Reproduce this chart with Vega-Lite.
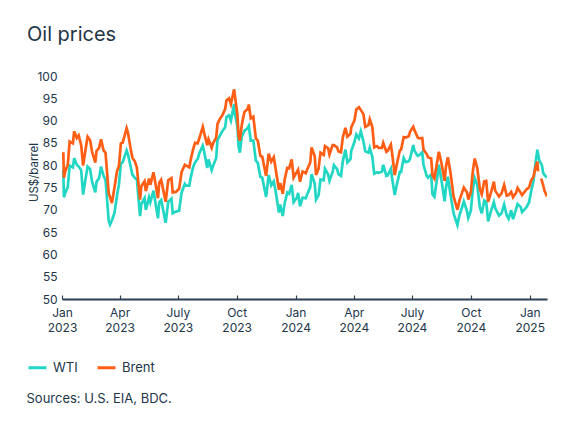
{
"$schema": "https://vega.github.io/schema/vega-lite/v6.json",
"width": 485, "height": 223,
"autosize": {"type": "none"},
"padding": {"left": 62, "top": 76, "right": 28, "bottom": 132},
"background": "white",
"title": {"text": "Oil prices", "anchor": "start", "frame": "group", "dx": -35, "offset": 9, "fontSize": 20, "font": "Inter", "fontWeight": 400, "color": "#1f3445", "baseline": "alphabetic"},
"config": {"view": {"stroke": null}},
"data": {"values": [
{"d":"2023-01-03","s":"WTI","v":79.0},{"d":"2023-01-04","s":"WTI","v":72.8},{"d":"2023-01-06","s":"WTI","v":73.8},{"d":"2023-01-10","s":"WTI","v":75.1},{"d":"2023-01-13","s":"WTI","v":79.9},{"d":"2023-01-18","s":"WTI","v":79.5},{"d":"2023-01-20","s":"WTI","v":81.6},{"d":"2023-01-24","s":"WTI","v":80.1},{"d":"2023-01-27","s":"WTI","v":79.7},{"d":"2023-01-31","s":"WTI","v":78.9},
{"d":"2023-02-03","s":"WTI","v":73.4},{"d":"2023-02-07","s":"WTI","v":77.1},{"d":"2023-02-10","s":"WTI","v":79.7},{"d":"2023-02-14","s":"WTI","v":79.1},{"d":"2023-02-17","s":"WTI","v":76.3},{"d":"2023-02-22","s":"WTI","v":73.9},{"d":"2023-02-24","s":"WTI","v":76.3},{"d":"2023-02-28","s":"WTI","v":77.1},
{"d":"2023-03-03","s":"WTI","v":79.7},{"d":"2023-03-07","s":"WTI","v":77.6},{"d":"2023-03-10","s":"WTI","v":76.7},{"d":"2023-03-15","s":"WTI","v":67.6},{"d":"2023-03-17","s":"WTI","v":66.7},{"d":"2023-03-20","s":"WTI","v":67.6},{"d":"2023-03-24","s":"WTI","v":69.3},{"d":"2023-03-28","s":"WTI","v":73.2},{"d":"2023-03-31","s":"WTI","v":75.7},
{"d":"2023-04-03","s":"WTI","v":80.4},{"d":"2023-04-06","s":"WTI","v":80.7},{"d":"2023-04-12","s":"WTI","v":83.3},{"d":"2023-04-14","s":"WTI","v":82.5},{"d":"2023-04-19","s":"WTI","v":79.2},{"d":"2023-04-21","s":"WTI","v":77.9},{"d":"2023-04-25","s":"WTI","v":77.1},{"d":"2023-04-28","s":"WTI","v":76.8},
{"d":"2023-05-03","s":"WTI","v":68.6},{"d":"2023-05-05","s":"WTI","v":71.3},{"d":"2023-05-10","s":"WTI","v":72.6},{"d":"2023-05-12","s":"WTI","v":70.0},{"d":"2023-05-17","s":"WTI","v":72.8},{"d":"2023-05-19","s":"WTI","v":71.7},{"d":"2023-05-24","s":"WTI","v":74.3},{"d":"2023-05-31","s":"WTI","v":68.1},
{"d":"2023-06-02","s":"WTI","v":71.7},{"d":"2023-06-05","s":"WTI","v":72.2},{"d":"2023-06-12","s":"WTI","v":67.1},{"d":"2023-06-16","s":"WTI","v":71.8},{"d":"2023-06-21","s":"WTI","v":72.5},{"d":"2023-06-23","s":"WTI","v":69.2},{"d":"2023-06-28","s":"WTI","v":69.6},
{"d":"2023-07-03","s":"WTI","v":69.8},{"d":"2023-07-07","s":"WTI","v":73.9},{"d":"2023-07-12","s":"WTI","v":75.8},{"d":"2023-07-14","s":"WTI","v":75.4},{"d":"2023-07-19","s":"WTI","v":75.4},{"d":"2023-07-21","s":"WTI","v":77.1},{"d":"2023-07-25","s":"WTI","v":79.6},{"d":"2023-07-28","s":"WTI","v":80.6},
{"d":"2023-08-01","s":"WTI","v":81.4},{"d":"2023-08-04","s":"WTI","v":82.8},{"d":"2023-08-09","s":"WTI","v":84.4},{"d":"2023-08-11","s":"WTI","v":83.2},{"d":"2023-08-16","s":"WTI","v":79.4},{"d":"2023-08-18","s":"WTI","v":81.3},{"d":"2023-08-23","s":"WTI","v":78.9},{"d":"2023-08-25","s":"WTI","v":79.8},{"d":"2023-08-30","s":"WTI","v":81.6},
{"d":"2023-09-01","s":"WTI","v":85.6},{"d":"2023-09-05","s":"WTI","v":86.7},{"d":"2023-09-08","s":"WTI","v":87.5},{"d":"2023-09-13","s":"WTI","v":88.5},{"d":"2023-09-15","s":"WTI","v":90.8},{"d":"2023-09-19","s":"WTI","v":91.2},{"d":"2023-09-22","s":"WTI","v":90.0},{"d":"2023-09-27","s":"WTI","v":93.7},{"d":"2023-09-28","s":"WTI","v":91.7},
{"d":"2023-10-02","s":"WTI","v":88.8},{"d":"2023-10-04","s":"WTI","v":84.2},{"d":"2023-10-06","s":"WTI","v":82.8},{"d":"2023-10-09","s":"WTI","v":86.4},{"d":"2023-10-13","s":"WTI","v":87.7},{"d":"2023-10-18","s":"WTI","v":88.3},{"d":"2023-10-20","s":"WTI","v":88.8},{"d":"2023-10-23","s":"WTI","v":85.5},{"d":"2023-10-27","s":"WTI","v":85.5},{"d":"2023-10-31","s":"WTI","v":81.0},
{"d":"2023-11-03","s":"WTI","v":80.5},{"d":"2023-11-07","s":"WTI","v":77.4},{"d":"2023-11-10","s":"WTI","v":77.2},{"d":"2023-11-16","s":"WTI","v":72.9},{"d":"2023-11-20","s":"WTI","v":77.8},{"d":"2023-11-24","s":"WTI","v":75.5},{"d":"2023-11-28","s":"WTI","v":76.4},
{"d":"2023-12-01","s":"WTI","v":74.1},{"d":"2023-12-06","s":"WTI","v":69.4},{"d":"2023-12-08","s":"WTI","v":71.2},{"d":"2023-12-12","s":"WTI","v":68.6},{"d":"2023-12-15","s":"WTI","v":71.4},{"d":"2023-12-19","s":"WTI","v":73.9},{"d":"2023-12-22","s":"WTI","v":73.6},{"d":"2023-12-26","s":"WTI","v":75.6},{"d":"2023-12-29","s":"WTI","v":71.7},
{"d":"2024-01-03","s":"WTI","v":72.7},{"d":"2024-01-05","s":"WTI","v":73.8},{"d":"2024-01-08","s":"WTI","v":70.8},{"d":"2024-01-12","s":"WTI","v":72.7},{"d":"2024-01-17","s":"WTI","v":72.6},{"d":"2024-01-19","s":"WTI","v":73.4},{"d":"2024-01-24","s":"WTI","v":75.1},{"d":"2024-01-26","s":"WTI","v":78.0},{"d":"2024-01-31","s":"WTI","v":75.9},
{"d":"2024-02-02","s":"WTI","v":72.3},{"d":"2024-02-06","s":"WTI","v":73.3},{"d":"2024-02-09","s":"WTI","v":76.8},{"d":"2024-02-14","s":"WTI","v":76.6},{"d":"2024-02-16","s":"WTI","v":79.2},{"d":"2024-02-21","s":"WTI","v":77.9},{"d":"2024-02-23","s":"WTI","v":76.5},{"d":"2024-02-28","s":"WTI","v":78.5},
{"d":"2024-03-01","s":"WTI","v":80.0},{"d":"2024-03-06","s":"WTI","v":79.1},{"d":"2024-03-08","s":"WTI","v":78.0},{"d":"2024-03-12","s":"WTI","v":77.6},{"d":"2024-03-15","s":"WTI","v":81.0},{"d":"2024-03-19","s":"WTI","v":83.5},{"d":"2024-03-22","s":"WTI","v":80.6},{"d":"2024-03-27","s":"WTI","v":81.4},{"d":"2024-03-28","s":"WTI","v":83.2},
{"d":"2024-04-02","s":"WTI","v":85.2},{"d":"2024-04-05","s":"WTI","v":86.9},{"d":"2024-04-09","s":"WTI","v":86.0},{"d":"2024-04-12","s":"WTI","v":87.6},{"d":"2024-04-16","s":"WTI","v":85.4},{"d":"2024-04-19","s":"WTI","v":83.1},{"d":"2024-04-24","s":"WTI","v":82.8},{"d":"2024-04-26","s":"WTI","v":83.9},{"d":"2024-04-30","s":"WTI","v":81.9},
{"d":"2024-05-03","s":"WTI","v":78.1},{"d":"2024-05-07","s":"WTI","v":78.4},{"d":"2024-05-10","s":"WTI","v":78.3},{"d":"2024-05-15","s":"WTI","v":78.6},{"d":"2024-05-17","s":"WTI","v":80.1},{"d":"2024-05-22","s":"WTI","v":77.6},{"d":"2024-05-24","s":"WTI","v":77.7},{"d":"2024-05-29","s":"WTI","v":79.2},{"d":"2024-05-31","s":"WTI","v":77.0},
{"d":"2024-06-04","s":"WTI","v":73.3},{"d":"2024-06-07","s":"WTI","v":75.5},{"d":"2024-06-12","s":"WTI","v":78.5},{"d":"2024-06-14","s":"WTI","v":78.5},{"d":"2024-06-18","s":"WTI","v":81.6},{"d":"2024-06-21","s":"WTI","v":80.7},{"d":"2024-06-26","s":"WTI","v":80.9},{"d":"2024-06-28","s":"WTI","v":81.5},
{"d":"2024-07-03","s":"WTI","v":84.5},{"d":"2024-07-05","s":"WTI","v":83.2},{"d":"2024-07-10","s":"WTI","v":82.1},{"d":"2024-07-12","s":"WTI","v":82.2},{"d":"2024-07-17","s":"WTI","v":82.9},{"d":"2024-07-19","s":"WTI","v":80.1},{"d":"2024-07-24","s":"WTI","v":77.6},{"d":"2024-07-26","s":"WTI","v":77.2},{"d":"2024-07-31","s":"WTI","v":77.9},
{"d":"2024-08-02","s":"WTI","v":73.5},{"d":"2024-08-05","s":"WTI","v":72.9},{"d":"2024-08-09","s":"WTI","v":76.8},{"d":"2024-08-12","s":"WTI","v":80.1},{"d":"2024-08-16","s":"WTI","v":76.7},{"d":"2024-08-21","s":"WTI","v":71.9},{"d":"2024-08-23","s":"WTI","v":74.8},{"d":"2024-08-26","s":"WTI","v":77.4},{"d":"2024-08-30","s":"WTI","v":73.6},
{"d":"2024-09-04","s":"WTI","v":69.2},{"d":"2024-09-10","s":"WTI","v":66.6},{"d":"2024-09-13","s":"WTI","v":68.7},{"d":"2024-09-18","s":"WTI","v":70.9},{"d":"2024-09-20","s":"WTI","v":71.9},{"d":"2024-09-25","s":"WTI","v":69.7},{"d":"2024-09-27","s":"WTI","v":68.2},
{"d":"2024-10-01","s":"WTI","v":69.8},{"d":"2024-10-04","s":"WTI","v":74.4},{"d":"2024-10-07","s":"WTI","v":77.1},{"d":"2024-10-11","s":"WTI","v":75.6},{"d":"2024-10-15","s":"WTI","v":70.6},{"d":"2024-10-18","s":"WTI","v":69.2},{"d":"2024-10-22","s":"WTI","v":72.1},{"d":"2024-10-25","s":"WTI","v":71.8},{"d":"2024-10-28","s":"WTI","v":67.4},
{"d":"2024-11-01","s":"WTI","v":69.5},{"d":"2024-11-06","s":"WTI","v":71.7},{"d":"2024-11-08","s":"WTI","v":70.4},{"d":"2024-11-14","s":"WTI","v":68.7},{"d":"2024-11-18","s":"WTI","v":69.2},{"d":"2024-11-22","s":"WTI","v":71.2},{"d":"2024-11-26","s":"WTI","v":68.8},{"d":"2024-11-29","s":"WTI","v":68.0},
{"d":"2024-12-03","s":"WTI","v":69.9},{"d":"2024-12-06","s":"WTI","v":67.9},{"d":"2024-12-11","s":"WTI","v":70.3},{"d":"2024-12-13","s":"WTI","v":71.3},{"d":"2024-12-18","s":"WTI","v":70.6},{"d":"2024-12-20","s":"WTI","v":69.5},{"d":"2024-12-24","s":"WTI","v":70.1},{"d":"2024-12-27","s":"WTI","v":70.6},{"d":"2024-12-31","s":"WTI","v":71.7},
{"d":"2025-01-03","s":"WTI","v":74.0},{"d":"2025-01-07","s":"WTI","v":76.5},{"d":"2025-01-10","s":"WTI","v":80.5},{"d":"2025-01-13","s":"WTI","v":83.5},{"d":"2025-01-14","s":"WTI","v":82.6},{"d":"2025-01-16","s":"WTI","v":81.0},{"d":"2025-01-20","s":"WTI","v":80.0},{"d":"2025-01-22","s":"WTI","v":78.3},{"d":"2025-01-24","s":"WTI","v":77.8},{"d":"2025-01-28","s":"WTI","v":77.2},
{"d":"2023-01-03","s":"Brent","v":82.9},{"d":"2023-01-04","s":"Brent","v":77.2},{"d":"2023-01-06","s":"Brent","v":78.6},{"d":"2023-01-10","s":"Brent","v":80.1},{"d":"2023-01-13","s":"Brent","v":85.3},{"d":"2023-01-18","s":"Brent","v":84.9},{"d":"2023-01-20","s":"Brent","v":87.6},{"d":"2023-01-24","s":"Brent","v":86.1},{"d":"2023-01-27","s":"Brent","v":86.7},{"d":"2023-01-31","s":"Brent","v":84.5},
{"d":"2023-02-03","s":"Brent","v":79.9},{"d":"2023-02-07","s":"Brent","v":83.7},{"d":"2023-02-10","s":"Brent","v":86.4},{"d":"2023-02-14","s":"Brent","v":85.6},{"d":"2023-02-17","s":"Brent","v":83.0},{"d":"2023-02-22","s":"Brent","v":80.6},{"d":"2023-02-24","s":"Brent","v":83.2},{"d":"2023-02-28","s":"Brent","v":83.9},
{"d":"2023-03-03","s":"Brent","v":85.8},{"d":"2023-03-07","s":"Brent","v":83.3},{"d":"2023-03-10","s":"Brent","v":82.8},{"d":"2023-03-15","s":"Brent","v":73.7},{"d":"2023-03-17","s":"Brent","v":72.9},{"d":"2023-03-20","s":"Brent","v":71.5},{"d":"2023-03-24","s":"Brent","v":75.0},{"d":"2023-03-28","s":"Brent","v":78.7},{"d":"2023-03-31","s":"Brent","v":79.8},
{"d":"2023-04-03","s":"Brent","v":84.9},{"d":"2023-04-06","s":"Brent","v":85.1},{"d":"2023-04-12","s":"Brent","v":88.3},{"d":"2023-04-14","s":"Brent","v":87.3},{"d":"2023-04-19","s":"Brent","v":83.1},{"d":"2023-04-21","s":"Brent","v":81.7},{"d":"2023-04-25","s":"Brent","v":80.8},{"d":"2023-04-28","s":"Brent","v":79.5},
{"d":"2023-05-03","s":"Brent","v":72.3},{"d":"2023-05-05","s":"Brent","v":75.3},{"d":"2023-05-10","s":"Brent","v":76.4},{"d":"2023-05-12","s":"Brent","v":74.2},{"d":"2023-05-17","s":"Brent","v":77.0},{"d":"2023-05-19","s":"Brent","v":75.6},{"d":"2023-05-24","s":"Brent","v":78.4},{"d":"2023-05-31","s":"Brent","v":72.6},
{"d":"2023-06-02","s":"Brent","v":76.1},{"d":"2023-06-05","s":"Brent","v":76.7},{"d":"2023-06-12","s":"Brent","v":71.8},{"d":"2023-06-16","s":"Brent","v":76.6},{"d":"2023-06-21","s":"Brent","v":77.1},{"d":"2023-06-23","s":"Brent","v":73.9},{"d":"2023-06-28","s":"Brent","v":74.0},
{"d":"2023-07-03","s":"Brent","v":74.7},{"d":"2023-07-07","s":"Brent","v":78.5},{"d":"2023-07-12","s":"Brent","v":80.1},{"d":"2023-07-14","s":"Brent","v":79.9},{"d":"2023-07-19","s":"Brent","v":79.5},{"d":"2023-07-21","s":"Brent","v":81.1},{"d":"2023-07-25","s":"Brent","v":83.6},{"d":"2023-07-28","s":"Brent","v":85.0},
{"d":"2023-08-01","s":"Brent","v":84.9},{"d":"2023-08-04","s":"Brent","v":86.2},{"d":"2023-08-09","s":"Brent","v":88.6},{"d":"2023-08-11","s":"Brent","v":87.3},{"d":"2023-08-16","s":"Brent","v":84.5},{"d":"2023-08-18","s":"Brent","v":85.8},{"d":"2023-08-23","s":"Brent","v":83.9},{"d":"2023-08-25","s":"Brent","v":84.9},{"d":"2023-08-30","s":"Brent","v":86.2},
{"d":"2023-09-01","s":"Brent","v":89.2},{"d":"2023-09-05","s":"Brent","v":90.5},{"d":"2023-09-08","s":"Brent","v":91.0},{"d":"2023-09-13","s":"Brent","v":92.6},{"d":"2023-09-15","s":"Brent","v":94.5},{"d":"2023-09-19","s":"Brent","v":95.0},{"d":"2023-09-22","s":"Brent","v":93.7},{"d":"2023-09-27","s":"Brent","v":97.0},{"d":"2023-09-28","s":"Brent","v":95.8},
{"d":"2023-10-02","s":"Brent","v":91.5},{"d":"2023-10-04","s":"Brent","v":86.5},{"d":"2023-10-06","s":"Brent","v":85.5},{"d":"2023-10-09","s":"Brent","v":89.0},{"d":"2023-10-13","s":"Brent","v":91.9},{"d":"2023-10-18","s":"Brent","v":92.6},{"d":"2023-10-20","s":"Brent","v":93.6},{"d":"2023-10-23","s":"Brent","v":90.5},{"d":"2023-10-27","s":"Brent","v":90.9},{"d":"2023-10-31","s":"Brent","v":86.0},
{"d":"2023-11-03","s":"Brent","v":85.5},{"d":"2023-11-07","s":"Brent","v":82.1},{"d":"2023-11-10","s":"Brent","v":81.9},{"d":"2023-11-16","s":"Brent","v":77.6},{"d":"2023-11-20","s":"Brent","v":82.6},{"d":"2023-11-24","s":"Brent","v":80.8},{"d":"2023-11-28","s":"Brent","v":81.8},
{"d":"2023-12-01","s":"Brent","v":79.1},{"d":"2023-12-06","s":"Brent","v":74.5},{"d":"2023-12-08","s":"Brent","v":76.0},{"d":"2023-12-12","s":"Brent","v":73.6},{"d":"2023-12-15","s":"Brent","v":76.8},{"d":"2023-12-19","s":"Brent","v":79.4},{"d":"2023-12-22","s":"Brent","v":79.3},{"d":"2023-12-26","s":"Brent","v":81.3},{"d":"2023-12-29","s":"Brent","v":77.2},
{"d":"2024-01-03","s":"Brent","v":78.5},{"d":"2024-01-05","s":"Brent","v":79.0},{"d":"2024-01-08","s":"Brent","v":76.3},{"d":"2024-01-12","s":"Brent","v":78.6},{"d":"2024-01-17","s":"Brent","v":78.2},{"d":"2024-01-19","s":"Brent","v":79.0},{"d":"2024-01-24","s":"Brent","v":80.6},{"d":"2024-01-26","s":"Brent","v":84.0},{"d":"2024-01-31","s":"Brent","v":82.0},
{"d":"2024-02-02","s":"Brent","v":77.8},{"d":"2024-02-06","s":"Brent","v":79.2},{"d":"2024-02-09","s":"Brent","v":82.8},{"d":"2024-02-14","s":"Brent","v":82.3},{"d":"2024-02-16","s":"Brent","v":84.3},{"d":"2024-02-21","s":"Brent","v":83.8},{"d":"2024-02-23","s":"Brent","v":82.4},{"d":"2024-02-28","s":"Brent","v":84.5},
{"d":"2024-03-01","s":"Brent","v":84.5},{"d":"2024-03-06","s":"Brent","v":84.0},{"d":"2024-03-08","s":"Brent","v":83.1},{"d":"2024-03-12","s":"Brent","v":82.9},{"d":"2024-03-15","s":"Brent","v":86.3},{"d":"2024-03-19","s":"Brent","v":88.4},{"d":"2024-03-22","s":"Brent","v":86.4},{"d":"2024-03-27","s":"Brent","v":87.1},{"d":"2024-03-28","s":"Brent","v":88.5},
{"d":"2024-04-02","s":"Brent","v":90.0},{"d":"2024-04-05","s":"Brent","v":92.5},{"d":"2024-04-09","s":"Brent","v":93.0},{"d":"2024-04-12","s":"Brent","v":92.4},{"d":"2024-04-16","s":"Brent","v":91.5},{"d":"2024-04-19","s":"Brent","v":88.6},{"d":"2024-04-24","s":"Brent","v":89.0},{"d":"2024-04-26","s":"Brent","v":90.3},{"d":"2024-04-30","s":"Brent","v":88.6},
{"d":"2024-05-03","s":"Brent","v":84.0},{"d":"2024-05-07","s":"Brent","v":84.3},{"d":"2024-05-10","s":"Brent","v":83.9},{"d":"2024-05-15","s":"Brent","v":83.9},{"d":"2024-05-17","s":"Brent","v":85.0},{"d":"2024-05-22","s":"Brent","v":83.0},{"d":"2024-05-24","s":"Brent","v":83.2},{"d":"2024-05-29","s":"Brent","v":84.6},{"d":"2024-05-31","s":"Brent","v":82.6},
{"d":"2024-06-04","s":"Brent","v":77.8},{"d":"2024-06-07","s":"Brent","v":80.0},{"d":"2024-06-12","s":"Brent","v":83.3},{"d":"2024-06-14","s":"Brent","v":83.5},{"d":"2024-06-18","s":"Brent","v":86.3},{"d":"2024-06-21","s":"Brent","v":86.2},{"d":"2024-06-26","s":"Brent","v":86.5},{"d":"2024-06-28","s":"Brent","v":87.5},
{"d":"2024-07-03","s":"Brent","v":88.6},{"d":"2024-07-05","s":"Brent","v":87.8},{"d":"2024-07-10","s":"Brent","v":86.2},{"d":"2024-07-12","s":"Brent","v":86.0},{"d":"2024-07-17","s":"Brent","v":86.1},{"d":"2024-07-19","s":"Brent","v":83.5},{"d":"2024-07-24","s":"Brent","v":82.5},{"d":"2024-07-26","s":"Brent","v":81.8},{"d":"2024-07-31","s":"Brent","v":81.5},
{"d":"2024-08-02","s":"Brent","v":77.7},{"d":"2024-08-05","s":"Brent","v":77.0},{"d":"2024-08-09","s":"Brent","v":80.5},{"d":"2024-08-12","s":"Brent","v":83.0},{"d":"2024-08-16","s":"Brent","v":80.5},{"d":"2024-08-21","s":"Brent","v":76.5},{"d":"2024-08-23","s":"Brent","v":79.6},{"d":"2024-08-26","s":"Brent","v":81.8},{"d":"2024-08-30","s":"Brent","v":78.5},
{"d":"2024-09-04","s":"Brent","v":73.0},{"d":"2024-09-10","s":"Brent","v":70.0},{"d":"2024-09-13","s":"Brent","v":72.0},{"d":"2024-09-18","s":"Brent","v":74.2},{"d":"2024-09-20","s":"Brent","v":75.0},{"d":"2024-09-25","s":"Brent","v":73.9},{"d":"2024-09-27","s":"Brent","v":72.3},
{"d":"2024-10-01","s":"Brent","v":74.0},{"d":"2024-10-04","s":"Brent","v":78.5},{"d":"2024-10-07","s":"Brent","v":81.5},{"d":"2024-10-11","s":"Brent","v":79.4},{"d":"2024-10-15","s":"Brent","v":74.7},{"d":"2024-10-18","s":"Brent","v":73.5},{"d":"2024-10-22","s":"Brent","v":76.4},{"d":"2024-10-25","s":"Brent","v":76.5},{"d":"2024-10-28","s":"Brent","v":71.8},
{"d":"2024-11-01","s":"Brent","v":73.6},{"d":"2024-11-06","s":"Brent","v":76.3},{"d":"2024-11-08","s":"Brent","v":74.3},{"d":"2024-11-14","s":"Brent","v":73.0},{"d":"2024-11-18","s":"Brent","v":73.7},{"d":"2024-11-22","s":"Brent","v":75.6},{"d":"2024-11-26","s":"Brent","v":73.2},{"d":"2024-11-29","s":"Brent","v":73.3},
{"d":"2024-12-03","s":"Brent","v":74.0},{"d":"2024-12-06","s":"Brent","v":72.8},{"d":"2024-12-11","s":"Brent","v":73.9},{"d":"2024-12-13","s":"Brent","v":74.9},{"d":"2024-12-18","s":"Brent","v":73.8},{"d":"2024-12-20","s":"Brent","v":73.3},{"d":"2024-12-24","s":"Brent","v":74.0},{"d":"2024-12-27","s":"Brent","v":74.6},{"d":"2024-12-31","s":"Brent","v":75.0},
{"d":"2025-01-03","s":"Brent","v":76.5},{"d":"2025-01-07","s":"Brent","v":77.5},{"d":"2025-01-10","s":"Brent","v":79.5},{"d":"2025-01-13","s":"Brent","v":80.8},{"d":"2025-01-14","s":"Brent","v":78.6},{"d":"2025-01-16","s":"Brent","v":null},{"d":"2025-01-19","s":"Brent","v":77.0},{"d":"2025-01-22","s":"Brent","v":75.5},{"d":"2025-01-24","s":"Brent","v":74.3},{"d":"2025-01-28","s":"Brent","v":73.0}
]},
"mark": {"type": "line", "strokeWidth": 2.7, "clip": true},
"encoding": {
  "x": {"field": "d", "type": "temporal",
    "scale": {"type": "utc", "domain": [{"year": 2023, "month": 1, "date": 1, "utc": true}, {"year": 2025, "month": 1, "date": 28, "utc": true}]},
    "axis": {
      "values": [{"year":2023,"month":1,"date":1,"utc":true},{"year":2023,"month":4,"date":1,"utc":true},{"year":2023,"month":7,"date":1,"utc":true},{"year":2023,"month":10,"date":1,"utc":true},{"year":2024,"month":1,"date":1,"utc":true},{"year":2024,"month":4,"date":1,"utc":true},{"year":2024,"month":7,"date":1,"utc":true},{"year":2024,"month":10,"date":1,"utc":true},{"year":2025,"month":1,"date":1,"utc":true}],
      "labelExpr": "[utcFormat(datum.value, '%m') == '07' ? 'July' : utcFormat(datum.value, '%b'), utcFormat(datum.value, '%Y')]",
      "labelFont": "Inter", "labelFontSize": 12, "labelColor": "#22364a", "labelLineHeight": 15, "labelPadding": 12,
      "labelFlush": false, "labelOverlap": false, "labelAlign": "center",
      "domainColor": "#2b3f52", "domainWidth": 2, "tickColor": "#2b3f52", "tickSize": -4, "tickWidth": 1.2, "grid": false,
      "title": "Sources: U.S. EIA, BDC.", "titleX": -36, "titleY": 99, "titleAlign": "left", "titleBaseline": "middle",
      "titleFont": "Inter", "titleFontSize": 13, "titleFontWeight": 400, "titleColor": "#22364a"
    }},
  "y": {"field": "v", "type": "quantitative",
    "scale": {"domain": [50, 100], "zero": false, "nice": false},
    "axis": {"values": [50,55,60,65,70,75,80,85,90,95,100], "domain": false, "ticks": false, "grid": false,
      "labelFont": "Inter", "labelFontSize": 12, "labelColor": "#22364a", "labelPadding": 5,
      "title": "US$/barrel", "titleX": -28, "titleY": 96, "titleAlign": "center", "titleBaseline": "middle", "titleAngle": -90,
      "titleFont": "Inter", "titleFontSize": 11.5, "titleFontWeight": 400, "titleColor": "#22364a"}},
  "color": {"field": "s", "type": "nominal",
    "scale": {"domain": ["WTI", "Brent"], "range": ["#22d6c4", "#ff5e14"]},
    "legend": {"orient": "none", "legendX": -35, "legendY": 281, "direction": "horizontal", "title": null,
      "symbolType": "stroke", "symbolSize": 324, "symbolStrokeWidth": 3, "labelFont": "Inter", "labelFontSize": 13,
      "labelColor": "#22364a", "labelOffset": 5, "columnPadding": 13, "padding": 0}}
}
}
